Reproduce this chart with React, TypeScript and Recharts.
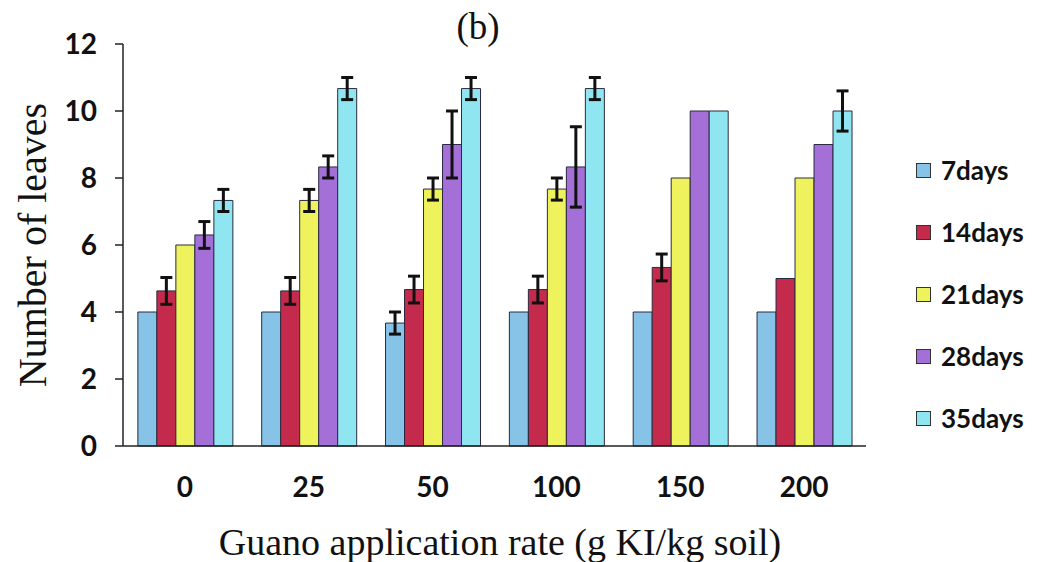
import React from 'react';
import { BarChart, Bar, XAxis, YAxis, ErrorBar } from 'recharts';

const categories = ['0', '25', '50', '100', '150', '200'];
const days7 = [4, 4, 3.67, 4, 4, 4];
const err7 = [0, 0, 0.33, 0, 0, 0];
const days14 = [4.63, 4.63, 4.67, 4.67, 5.33, 5];
const err14 = [0.4, 0.4, 0.4, 0.4, 0.4, 0];
const days21 = [6, 7.33, 7.67, 7.67, 8, 8];
const err21 = [0, 0.33, 0.33, 0.33, 0, 0];
const days28 = [6.3, 8.33, 9, 8.33, 10, 9];
const err28 = [0.4, 0.33, 1, 1.2, 0, 0];
const days35 = [7.33, 10.67, 10.67, 10.67, 10, 10];
const err35 = [0.33, 0.33, 0.33, 0.33, 0, 0.6];
const yTicks = [0, 2, 4, 6, 8, 10, 12];

const seriesNames = ['7days', '14days', '21days', '28days', '35days'];
const seriesColors = ['#86c3e6', '#c42a4c', '#eef25c', '#a46fd6', '#8fe6f0'];

const data = categories.map((c, i) => ({
  cat: c,
  d7: days7[i], e7: err7[i],
  d14: days14[i], e14: err14[i],
  d21: days21[i], e21: err21[i],
  d28: days28[i], e28: err28[i],
  d35: days35[i], e35: err35[i],
}));

const keys = ['d7', 'd14', 'd21', 'd28', 'd35'];
const errKeys = ['e7', 'e14', 'e21', 'e28', 'e35'];

const sansFont = 'Lato, "Open Sans", sans-serif';
const serifFont = '"Liberation Serif", "DejaVu Serif", serif';

export default function App() {
  return (
    <div style={{ position: 'absolute', left: 0, top: 0, width: 1039, height: 562, background: '#fff' }}>
      <BarChart
        width={1039}
        height={562}
        data={data}
        margin={{ top: 44, right: 173, left: 0, bottom: 0 }}
        barCategoryGap="12%"
        barGap={0}
      >
        <XAxis
          dataKey="cat"
          height={116}
          axisLine={{ stroke: '#222', strokeWidth: 1.5 }}
          tickLine={false}
          tickSize={6}
          tickMargin={25}
          tick={{ fontFamily: sansFont, fontWeight: 700, fontSize: 28, fill: '#111' }}
        />
        <YAxis
          width={123}
          domain={[0, 12]}
          ticks={yTicks}
          interval={0}
          axisLine={{ stroke: '#222', strokeWidth: 1.5 }}
          tickLine={{ stroke: '#222', strokeWidth: 1.5 }}
          tickSize={8}
          tickMargin={18}
          tick={{ fontFamily: sansFont, fontWeight: 700, fontSize: 28, fill: '#111' }}
        />
        {keys.map((k, i) => (
          <Bar
            key={k}
            dataKey={k}
            name={seriesNames[i]}
            fill={seriesColors[i]}
            stroke="#2a2a40"
            strokeWidth={1}
            isAnimationActive={false}
          >
            <ErrorBar dataKey={errKeys[i]} width={6} stroke="#111" strokeWidth={3} direction="y" />
          </Bar>
        ))}
      </BarChart>
      <div style={{ position: 'absolute', left: 0, top: 0, width: 1039, height: 0 }}>
        {seriesNames.map((n, i) => (
          <div
            key={n}
            style={{ position: 'absolute', left: 916, top: 170 + i * 62 - 20, height: 40, display: 'flex', alignItems: 'center', fontFamily: sansFont, fontWeight: 700, fontSize: 26, color: '#111' }}
          >
            <span style={{ display: 'inline-block', width: 13, height: 13, background: seriesColors[i], border: '1px solid #333', marginRight: 10 }} />
            <span>{n}</span>
          </div>
        ))}
      </div>
      <div style={{ position: 'absolute', left: 428, top: 6, width: 100, textAlign: 'center', fontFamily: serifFont, fontSize: 37, lineHeight: '42px', color: '#111' }}>(b)</div>
      <div style={{ position: 'absolute', left: 100, top: 522, width: 800, textAlign: 'center', fontFamily: serifFont, fontSize: 38, lineHeight: '40px', color: '#111' }}>
        Guano application rate (g KI/kg soil)
      </div>
      <div style={{ position: 'absolute', left: 33, top: 245, width: 0, height: 0 }}>
        <div style={{ position: 'absolute', left: -200, top: -22, width: 400, textAlign: 'center', transform: 'rotate(-90deg)', fontFamily: serifFont, fontSize: 40, color: '#111', lineHeight: '44px' }}>
          Number of leaves
        </div>
      </div>
    </div>
  );
}
